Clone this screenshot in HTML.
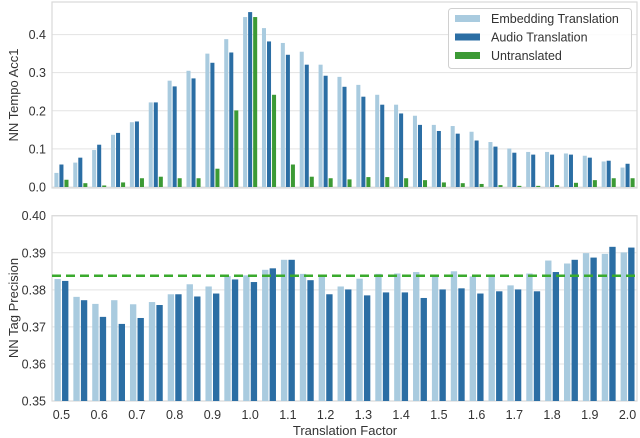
<!DOCTYPE html>
<html><head><meta charset="utf-8"><style>
html,body{margin:0;padding:0;background:#fff;}
svg{display:block;font-family:"Liberation Sans",sans-serif;}
</style></head><body>
<svg id="chart" width="640" height="438" viewBox="0 0 640 438"></svg>
<script>
const categories=["0.5","0.55","0.6","0.65","0.7","0.75","0.8","0.85","0.9","0.95","1.0","1.05","1.1","1.15","1.2","1.25","1.3","1.35","1.4","1.45","1.5","1.55","1.6","1.65","1.7","1.75","1.8","1.85","1.9","1.95","2.0"];
const tempoEmbedding=[0.037,0.064,0.097,0.137,0.170,0.222,0.279,0.305,0.350,0.388,0.446,0.417,0.378,0.355,0.321,0.289,0.268,0.242,0.216,0.187,0.163,0.160,0.145,0.118,0.101,0.092,0.092,0.088,0.082,0.067,0.051];
const tempoAudio=[0.059,0.077,0.111,0.142,0.172,0.222,0.264,0.285,0.326,0.353,0.459,0.382,0.347,0.321,0.292,0.263,0.237,0.216,0.193,0.163,0.147,0.140,0.122,0.106,0.090,0.085,0.085,0.085,0.077,0.069,0.061];
const tempoUntranslated=[0.019,0.010,0.004,0.012,0.023,0.027,0.023,0.023,0.048,0.201,0.446,0.242,0.059,0.027,0.023,0.020,0.026,0.026,0.023,0.018,0.012,0.010,0.008,0.005,0.003,0.003,0.005,0.011,0.018,0.023,0.023];
const tagEmbedding=[0.3829,0.3781,0.3762,0.3772,0.3761,0.3767,0.3788,0.3815,0.3809,0.3837,0.3839,0.3854,0.3881,0.3843,0.3837,0.3809,0.3830,0.3843,0.3844,0.3848,0.3835,0.3850,0.3836,0.3835,0.3812,0.3844,0.3879,0.3871,0.3899,0.3897,0.3901];
const tagAudio=[0.3824,0.3772,0.3727,0.3708,0.3724,0.3759,0.3788,0.3782,0.3790,0.3828,0.3821,0.3858,0.3881,0.3826,0.3788,0.3801,0.3785,0.3793,0.3793,0.3778,0.3801,0.3804,0.3790,0.3796,0.3801,0.3796,0.3848,0.3881,0.3887,0.3916,0.3914];
const tagUntranslated=0.3838;
const tempoTicks=[0.0,0.1,0.2,0.3,0.4];
const tagTicks=[0.35,0.36,0.37,0.38,0.39,0.40];
const xTickLabels=["0.5","0.6","0.7","0.8","0.9","1.0","1.1","1.2","1.3","1.4","1.5","1.6","1.7","1.8","1.9","2.0"];

const svg=document.getElementById('chart');
const NS='http://www.w3.org/2000/svg';
const C1='#a9cbdf',C2='#2b6ea4',C3='#3c9a35';
function mk(tag,attrs,parent){const e=document.createElementNS(NS,tag);for(const k in attrs)e.setAttribute(k,attrs[k]);(parent||svg).appendChild(e);return e;}
const L=52,R=637,step=(R-L)/categories.length;
function xc(i){return L+step*(i+0.5);}
// top scale
const T={top:2,bot:187,min:0,max:0.4855};
function yT(v){return T.bot-(v-T.min)/(T.max-T.min)*(T.bot-T.top);}
const B={top:215.7,bot:401,min:0.35,max:0.40};
function yB(v){return B.bot-(v-B.min)/(B.max-B.min)*(B.bot-B.top);}

// top panel grid
tempoTicks.forEach(t=>{
  const y=yT(t);
  const g=mk('line',{x1:L,x2:R,y1:y,y2:y,stroke:'#e3e3e3','stroke-width':1});
  
  const tx=mk('text',{x:46,y:y+4.5,'text-anchor':'end','font-size':12.5,fill:'#333'});
  tx.textContent=t.toFixed(1);
  
});
const tf=mk('rect',{x:L,y:T.top,width:R-L,height:T.bot-T.top+1,fill:'none',stroke:'#d9d9d9','stroke-width':1.2});

// bottom grid
tagTicks.forEach(t=>{
  const y=yB(t);
  const g=mk('line',{x1:L,x2:R,y1:y,y2:y,stroke:'#e3e3e3','stroke-width':1});
  
  const tx=mk('text',{x:46,y:y+4.5,'text-anchor':'end','font-size':12.5,fill:'#333'});
  tx.textContent=t.toFixed(2);
  
});
const bf=mk('rect',{x:L,y:B.top,width:R-L,height:B.bot-B.top,fill:'none',stroke:'#d9d9d9','stroke-width':1.2});


// top bars
const w3=step*0.8/3;
[[tempoEmbedding,C1,'tempo-embedding-bar'],[tempoAudio,C2,'tempo-audio-bar'],[tempoUntranslated,C3,'tempo-untranslated-bar']].forEach((s,k)=>{
  s[0].forEach((v,i)=>{
    const x=xc(i)-step*0.4+k*w3;
    const r=mk('rect',{x:x+0.5,y:yT(v),width:w3-1,height:T.bot-yT(v),fill:s[1]});
    
  });
});
// bottom bars
const w2=step*0.8/2;
[[tagEmbedding,C1,'tag-embedding-bar'],[tagAudio,C2,'tag-audio-bar']].forEach((s,k)=>{
  s[0].forEach((v,i)=>{
    const x=xc(i)-step*0.4+k*w2;
    const r=mk('rect',{x:x+0.6,y:yB(v),width:w2-1.2,height:B.bot-yB(v),fill:s[1]});
    
  });
});
const dl=mk('line',{x1:L,x2:R,y1:yB(tagUntranslated),y2:yB(tagUntranslated),stroke:'#3aaa2d','stroke-width':2.5,'stroke-dasharray':'9,5'});


// x ticks
xTickLabels.forEach((t,j)=>{
  const tx=mk('text',{x:xc(j*2),y:419,'text-anchor':'middle','font-size':12.5,fill:'#333'});
  tx.textContent=t;
  
});
const xl=mk('text',{x:345,y:435,'text-anchor':'middle','font-size':13,fill:'#333'});
xl.textContent='Translation Factor';

const yl1=mk('text',{x:0,y:0,'text-anchor':'middle','font-size':13,fill:'#333',transform:'translate(18,95) rotate(-90)'});
yl1.textContent='NN Tempo Acc1';

const yl2=mk('text',{x:0,y:0,'text-anchor':'middle','font-size':13,fill:'#333',transform:'translate(18,308) rotate(-90)'});
yl2.textContent='NN Tag Precision';


// legend
const lg=mk('g',{});

mk('rect',{x:448.5,y:8.5,width:183,height:60,rx:3,fill:'#fff','fill-opacity':0.85,stroke:'#d0d0d0'},lg);
[['Embedding Translation',C1],['Audio Translation',C2],['Untranslated',C3]].forEach((e,i)=>{
  const g=mk('g',{},lg);
  
  mk('rect',{x:455,y:15+i*18.5,width:25,height:7,fill:e[1]},g);
  const t=mk('text',{x:491,y:23+i*18.5,'font-size':12.5,fill:'#333'},g);
  t.textContent=e[0];
});
</script>
</body></html>
